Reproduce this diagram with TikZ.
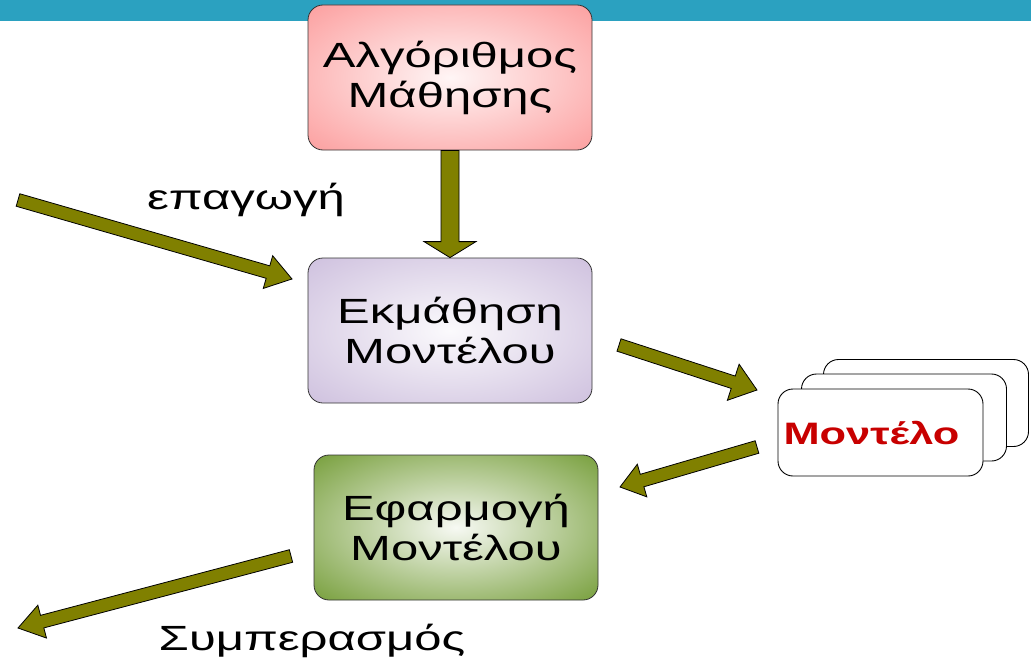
\documentclass[tikz,border=0pt]{standalone}
\usepackage{fontspec}
\setmainfont{Liberation Sans}[FakeStretch=1.4]
\usepackage{tikz}
\usetikzlibrary{calc}
\definecolor{barcolor}{RGB}{43,161,192}
\definecolor{arrowolive}{RGB}{128,128,0}
\definecolor{algpink}{RGB}{252,158,158}
\definecolor{learnlav}{RGB}{206,192,222}
\definecolor{applygreen}{RGB}{118,158,58}
\definecolor{modelred}{RGB}{200,0,0}
\pgfdeclareradialshading{algglow}{\pgfpoint{0bp}{0bp}}{color(0bp)=(white!90!algpink); color(36bp)=(algpink); color(50bp)=(algpink)}
\pgfdeclareradialshading{learnglow}{\pgfpoint{0bp}{0bp}}{color(0bp)=(white!92!learnlav); color(36bp)=(learnlav); color(50bp)=(learnlav)}
\pgfdeclareradialshading{applyglow}{\pgfpoint{0bp}{0bp}}{color(0bp)=(white!94!applygreen); color(36bp)=(applygreen); color(50bp)=(applygreen)}
\tikzset{
  box/.style      = {draw=black!80, line width=0.8pt, rounded corners=15pt,
                     minimum width=284pt, minimum height=145pt, align=center,
                     font=\fontsize{35}{40}\selectfont},
  modelbox/.style = {draw=black, line width=0.9pt, fill=white, rounded corners=15pt,
                     minimum width=205pt, minimum height=87pt},
  blockarrow/.style = {draw=black, line width=0.8pt, fill=arrowolive},
  lbl/.style      = {font=\fontsize{35}{40}\selectfont},
}
% block arrow: tail, tip, half shaft, half head, head length
\newcommand{\blockarrow}[5]{%
  \coordinate (hb) at ($(#2)!#5!(#1)$);
  \draw[blockarrow] ($(#1)!#3!90:(#2)$) -- ($(hb)!#3!90:(#2)$) -- ($(hb)!#4!90:(#2)$) -- (#2)
    -- ($(hb)!#4!-90:(#2)$) -- ($(hb)!#3!-90:(#2)$) -- ($(#1)!#3!-90:(#2)$) -- cycle;
}

\begin{document}
\begin{tikzpicture}[x=1pt, y=-1pt]
  \useasboundingbox (0,0) rectangle (1031,661);
  % header bar
  \fill[barcolor] (0,0) rectangle (1031,21);
  % the three stages
  \node[box, shading=algglow] (alg) at (450,77.5) {Αλγόριθμος\\Μάθησης};
  \node[box, shading=learnglow] (learn) at (450,330.5) {Εκμάθηση\\Μοντέλου};
  \node[box, shading=applyglow] (apply) at (456,527.5) {Εφαρμογή\\Μοντέλου};
  % stack of models
  \node[modelbox] (model3) at (926,403) {};
  \node[modelbox] (model2) at (904,417.5) {};
  \node[modelbox, text=modelred, font=\fontsize{31}{34}\selectfont\bfseries,
        text depth=0pt, inner xsep=0pt] (model) at (880.5,432.5) {Μοντέλο\hspace*{18pt}};
  % free ends of the arrows
  \coordinate (indin) at (18,200);
  \coordinate (indtip) at (292,279);
  \coordinate (learnout) at (619,345);
  \coordinate (modelin) at (757,390);
  \coordinate (modelout) at (757,447);
  \coordinate (applyin) at (620,487);
  \coordinate (applyout) at (291,556);
  \coordinate (conclout) at (18,628);
  % arrows
  \blockarrow{indin}{indtip}{6.5pt}{17pt}{25pt}
  \blockarrow{alg.south}{learn.north}{9pt}{26pt}{16pt}
  \blockarrow{learnout}{modelin}{6.5pt}{19pt}{25pt}
  \blockarrow{modelout}{applyin}{6.5pt}{17pt}{23pt}
  \blockarrow{applyout}{conclout}{6.5pt}{17pt}{25pt}
  % labels
  \node[lbl] (induct) at (246,200) {επαγωγή};
  \node[lbl] (concl) at (312,641) {Συμπερασμός};
\end{tikzpicture}
\end{document}
